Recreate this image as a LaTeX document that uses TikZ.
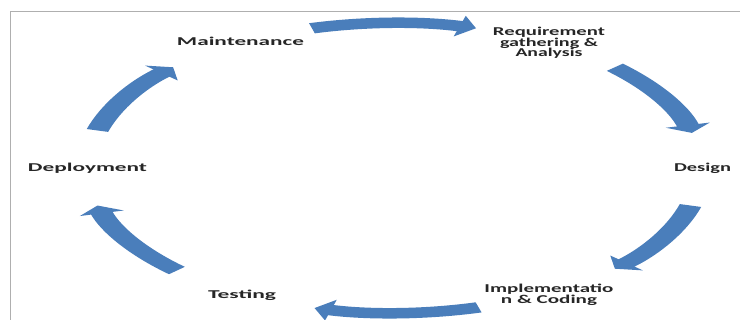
\documentclass[tikz,border=0pt]{standalone}
\usepackage{fontspec}
\setmainfont{Carlito}
\usetikzlibrary{arrows.meta}
\definecolor{arrowblue}{RGB}{74,126,187}
\definecolor{framegray}{RGB}{175,175,175}
\newcommand{\fitw}[2]{\resizebox{#1}{\height}{#2}}
\newcommand{\stacklines}[1]{\vtop{\baselineskip=10.7pt\lineskiplimit=-20pt\halign{\hfil##\hfil\cr#1\crcr}}}
\begin{document}
\begin{tikzpicture}[x=1pt,y=1pt,
  lbl/.style={inner sep=0pt, anchor=base, font=\fontsize{12}{10.7}\selectfont\bfseries, text=black!85},
  cyc/.style={draw=arrowblue, line width=10.5pt, -{Triangle[width=21pt,length=8pt]}}]
\useasboundingbox (0,0) rectangle (740,320);
\fill[white] (0,0) rectangle (740,320);
\draw[framegray, line width=1pt] (10.5,0) -- (10.5,308.5) -- (740,308.5);
% labels
\node[lbl] (maint) at (240.5,274) {\fitw{127pt}{Maintenance}};
\node[lbl] (req) at (549,284.5) {\stacklines{\fitw{112pt}{Requirement}\cr\fitw{98pt}{gathering \&}\cr\fitw{67pt}{Analysis}}};
\node[lbl] (design) at (702.5,148) {\fitw{57pt}{Design}};
\node[lbl] (impl) at (549,27.5) {\stacklines{\fitw{129pt}{Implementatio}\cr\fitw{96pt}{n \& Coding}}};
\node[lbl] (test) at (242,21.5) {\fitw{68pt}{Testing}};
\node[lbl] (deploy) at (87.5,148) {\fitw{119pt}{Deployment}};
% cycle arrows: circle arcs stretched horizontally into the ellipse
\begin{scope}[transform canvas={xscale=2.1172}]
\coordinate (C) at (186.09,152);
\coordinate (s1) at ([shift={(105.5:145pt)}]C);
\coordinate (s2) at ([shift={(44:145pt)}]C);
\coordinate (s3) at ([shift={(-15:145pt)}]C);
\coordinate (s4) at ([shift={(-74:145pt)}]C);
\coordinate (s5) at ([shift={(225:145pt)}]C);
\coordinate (s6) at ([shift={(165:145pt)}]C);
\draw[cyc] (s1) arc[start angle=105.5, end angle=74.5, radius=145pt];
\draw[cyc] (s2) arc[start angle=44, end angle=14, radius=145pt];
\draw[cyc] (s3) arc[start angle=-15, end angle=-44, radius=145pt];
\draw[cyc] (s4) arc[start angle=-74, end angle=-105, radius=145pt];
\draw[cyc] (s5) arc[start angle=225, end angle=195, radius=145pt];
\draw[cyc] (s6) arc[start angle=165, end angle=136, radius=145pt];
\end{scope}
\end{tikzpicture}
\end{document}
